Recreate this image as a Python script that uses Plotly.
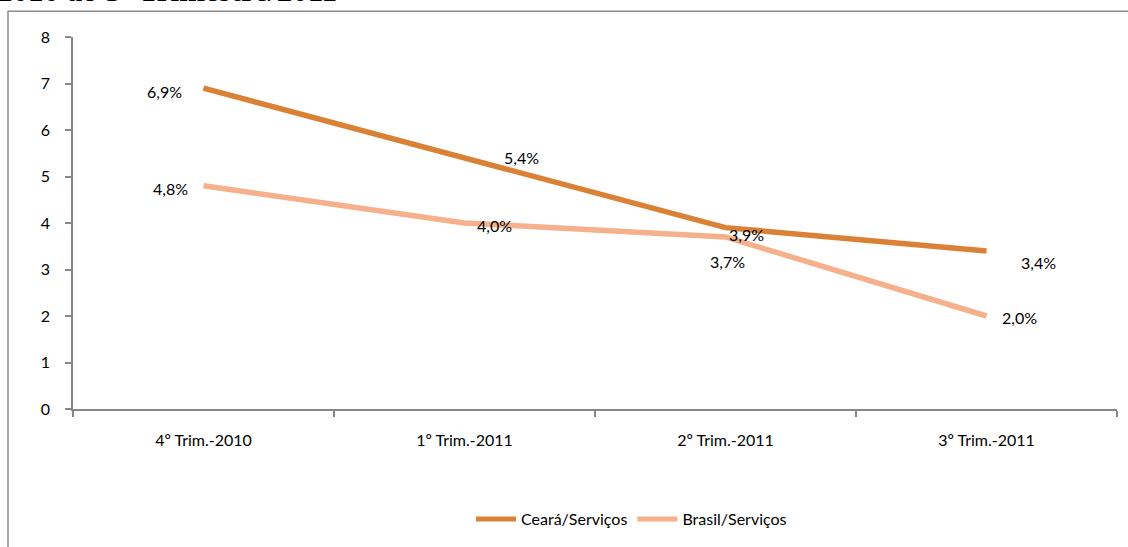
import plotly.graph_objects as go

categories = ["4º Trim.-2010", "1º Trim.-2011", "2º Trim.-2011", "3º Trim.-2011"]
ceara = [6.9, 5.4, 3.9, 3.4]
brasil = [4.8, 4.0, 3.7, 2.0]
y_ticks = [0, 1, 2, 3, 4, 5, 6, 7, 8]

# label offsets in pixels (style only)
ceara_off = [(-39, -3), (57, 0), (21, -7), (52, -12)]
brasil_off = [(-33, -3), (30, -2), (2, -25), (33, -1)]

C_CEARA = "#DA8135"
C_BRASIL = "#F6B08B"
FONT = "Lato, Carlito, 'Liberation Sans Narrow', sans-serif"

fig = go.Figure()
fig.add_trace(go.Scatter(x=categories, y=ceara, mode="lines", name="Ceará/Serviços",
                         line=dict(color=C_CEARA, width=5.5)))
fig.add_trace(go.Scatter(x=categories, y=brasil, mode="lines", name="Brasil/Serviços",
                         line=dict(color=C_BRASIL, width=5.5)))

ann = []
for vals, offs in ((ceara, ceara_off), (brasil, brasil_off)):
    for c, v, (dx, dy) in zip(categories, vals, offs):
        ann.append(dict(x=c, y=v, xref="x", yref="y", text=f"{v:.1f}%".replace(".", ","),
                        showarrow=False, xshift=dx, yshift=dy,
                        font=dict(family=FONT, size=16, color="#000")))

# partially cut title from original document (top edge cropped as in the source)
ann.append(dict(x=(-5 - 73) / 1044, y=(411 - 9.5) / 374, xref="paper", yref="paper",
                xanchor="left", yanchor="bottom", showarrow=False,
                text="<b>2010 ao 3º Trimestre/2011</b>",
                font=dict(family="'Liberation Serif', 'Times New Roman', serif", size=31, color="#000")))

fig.update_layout(
    width=1128, height=547,
    margin=dict(l=73, r=11, t=37, b=136),
    paper_bgcolor="white", plot_bgcolor="white",
    showlegend=True,
    legend=dict(orientation="h", x=0.535, xanchor="center", y=-0.25, yanchor="top",
                font=dict(family=FONT, size=16, color="#000"),
                itemwidth=40, tracegroupgap=0, itemsizing="constant"),
    annotations=ann,
    shapes=[dict(type="rect", xref="paper", yref="paper",
                 x0=(8 - 73) / 1044, x1=1.2, y0=-0.5, y1=(411 - 11) / 374,
                 line=dict(color="#8C8C8C", width=1.5), fillcolor="rgba(0,0,0,0)", layer="below")],
    xaxis=dict(type="category", range=[-0.5, 3.5], showgrid=False, zeroline=False,
               showline=True, linecolor="#878787", linewidth=1.5,
               ticks="outside", tickson="boundaries", ticklen=6, tickcolor="#878787", tickwidth=1.5,
               ticklabelstandoff=16,
               tickfont=dict(family=FONT, size=16, color="#000")),
    yaxis=dict(range=[0, 8], tickvals=y_ticks, showgrid=False, zeroline=False,
               showline=True, linecolor="#878787", linewidth=1.5,
               ticks="outside", ticklen=6, tickcolor="#878787", tickwidth=1.5,
               ticklabelstandoff=12,
               tickfont=dict(family=FONT, size=16, color="#000")),
)

fig.write_html("out.html", config={"displayModeBar": False},
               post_script="document.body.style.margin='0';")
